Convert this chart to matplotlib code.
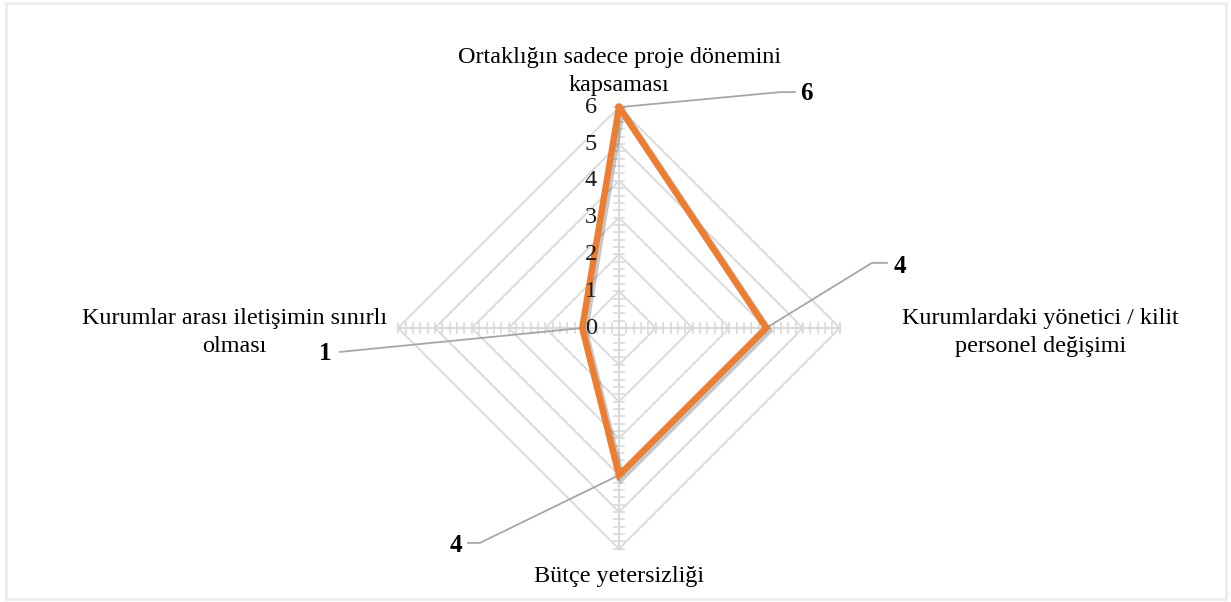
import numpy as np
import matplotlib
matplotlib.use("Agg")
import matplotlib.pyplot as plt
import matplotlib.patheffects as pe
from matplotlib.patches import Rectangle

# Chart data
categories = ["Ortaklığın sadece proje dönemini\nkapsaması",
              "Kurumlardaki yönetici / kilit\npersonel değişimi",
              "Bütçe yetersizliği",
              "Kurumlar arası iletişimin sınırlı\nolması"]
values = [6, 4, 4, 1]
tick_values = [0, 1, 2, 3, 4, 5, 6]
r_max = 6

plt.rcParams["font.family"] = ["Liberation Serif", "DejaVu Serif"]

W, H = 1231, 602
fig = plt.figure(figsize=(W / 100, H / 100), dpi=100)
ax = fig.add_axes([0, 0, 1, 1])
ax.set_axis_off()

# pixel layout -> data units (1 unit = one ring)
cx, cy, unit = 619, 274, 36.8
ax.set_xlim(-cx / unit, (W - cx) / unit)
ax.set_ylim(-cy / unit, (H - cy) / unit)

# angles: top, right, bottom, left (clockwise)
angles = np.pi / 2 - np.arange(len(categories)) * 2 * np.pi / len(categories)
ux, uy = np.cos(angles), np.sin(angles)

grid_c = "#d9d9d9"
# ring gridlines
for t in tick_values[1:]:
    ax.plot(np.append(ux * t, ux[0] * t), np.append(uy * t, uy[0] * t),
            color=grid_c, lw=1.3, zorder=1)
# spokes with minor ticks
for x, y in zip(ux, uy):
    ax.plot([0, x * r_max], [0, y * r_max], color=grid_c, lw=1.5, zorder=1)
    px, py = -y, x
    for m in np.arange(0.2, r_max + 0.01, 0.2):
        ln = 0.13
        ax.plot([x * m - px * ln, x * m + px * ln], [y * m - py * ln, y * m + py * ln],
                color=grid_c, lw=1.2, zorder=1)

# tick labels along top axis
for t in tick_values:
    ax.text(-0.76, t, str(t), ha="center", va="center", fontsize=17.5, color="#1a1a1a", zorder=4)

# data polygon
xs = np.array(values) * ux
ys = np.array(values) * uy
ax.plot(np.append(xs, xs[0]), np.append(ys, ys[0]), color="#ED7D31", lw=4.6,
        solid_joinstyle="miter", zorder=3,
        path_effects=[pe.SimpleLineShadow(offset=(2, -2), shadow_color="#000000", alpha=0.22),
                      pe.Normal()])

# category labels
ax.text(0, 6.98, categories[0], ha="center", va="center", fontsize=17.4, linespacing=1.45)
ax.text(11.45, -0.12, categories[1], ha="center", va="center", fontsize=17.4, linespacing=1.45)
ax.text(0, -6.74, categories[2], ha="center", va="center", fontsize=17.4)
ax.text(-10.45, -0.12, categories[3], ha="center", va="center", fontsize=17.4, linespacing=1.45)

# data labels with leader lines (elbow, end of line, label position in data units)
leader = [((4.375, 6.41), (4.78, 6.41), (4.92, 6.36), "left"),
          ((6.875, 1.77), (7.28, 1.77), (7.47, 1.68), "left"),
          ((-3.78, -5.84), (-4.10, -5.84), (-4.27, -5.9), "right"),
          ((-7.58, -0.65), (-7.58, -0.65), (-7.8, -0.68), "right")]
for v, x, y, (p1, p2, tp, ha) in zip(values, xs, ys, leader):
    ax.plot([x, p1[0], p2[0]], [y, p1[1], p2[1]], color="#a6a6a6", lw=1.3, zorder=2)
    ax.text(tp[0], tp[1], str(v), ha=ha, va="center", fontsize=18, fontweight="bold")

# outer frame
fig.patches.append(Rectangle((6 / W, 3 / H), 1220 / W, 596 / H, transform=fig.transFigure,
                             fill=False, edgecolor="#ececec", lw=2))

fig.savefig("out.png", dpi=100)
